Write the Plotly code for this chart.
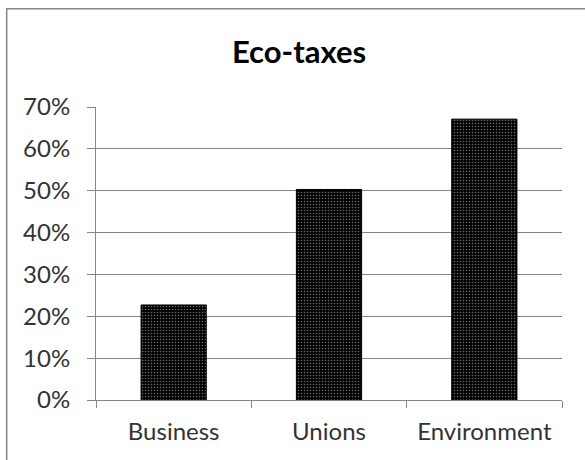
import plotly.graph_objects as go

categories = ["Business", "Unions", "Environment"]
values = [0.227, 0.503, 0.671]
y_ticks = [0, 0.1, 0.2, 0.3, 0.4, 0.5, 0.6, 0.7]
y_tick_labels = ["0%", "10%", "20%", "30%", "40%", "50%", "60%", "70%"]

FONT = "Lato, Open Sans, DejaVu Sans, sans-serif"

L, R, T, B = 96, 23, 107, 60
W, H = 585, 460
plot_w = W - L - R
plot_h = H - T - B

fig = go.Figure(go.Bar(
    x=categories,
    y=values,
    width=0.42,
    marker=dict(
        color="black",
        line=dict(color="black", width=1),
        pattern=dict(shape=".", fgcolor="#d8d8d8", bgcolor="black", size=3, solidity=0.22),
    ),
))

fig.update_layout(
    width=W, height=H,
    margin=dict(l=L, r=R, t=T, b=B),
    paper_bgcolor="white", plot_bgcolor="white",
    showlegend=False,
    font=dict(family=FONT, color="#333333", size=24),
    title=dict(text="<b>Eco-taxes</b>", x=299 / W, xanchor="center",
               y=1 - 52.5 / H, yanchor="middle",
               font=dict(family=FONT, size=31, color="black")),
)
fig.update_xaxes(
    showline=True, linecolor="#868686", linewidth=1,
    ticks="outside", tickson="boundaries", ticklen=7, tickcolor="#868686",
    showgrid=False, tickfont=dict(size=24), ticklabelstandoff=10, fixedrange=True,
)
fig.update_yaxes(
    range=[0, 0.7], tickvals=y_ticks, ticktext=y_tick_labels,
    showline=True, linecolor="#868686", linewidth=1,
    ticks="outside", ticklen=8, tickcolor="#868686",
    showgrid=True, gridcolor="#868686", gridwidth=1,
    zeroline=False, tickfont=dict(size=24), ticklabelstandoff=12, fixedrange=True,
)
# outer chart-area border (left and top visible)
fig.add_shape(type="rect", xref="paper", yref="paper",
              x0=(6.7 - L) / plot_w, x1=1.5, y0=-0.5, y1=(400 - 8.7) / plot_h,
              line=dict(color="#868686", width=1.5), layer="below")

fig.write_html("out.html", config={"displayModeBar": False},
               post_script="document.body.style.margin='0px';")
